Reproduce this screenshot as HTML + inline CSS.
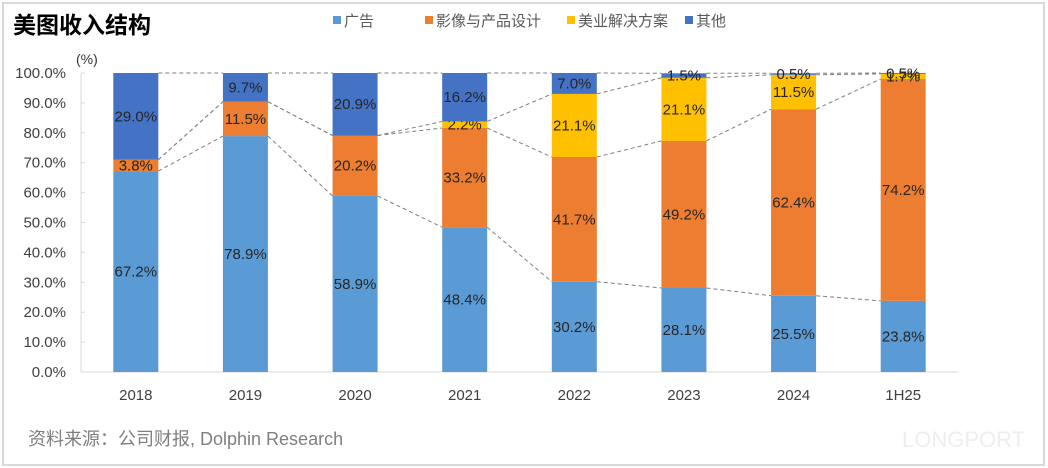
<!DOCTYPE html>
<html><head><meta charset="utf-8"><style>
body{margin:0;background:#fff;}
svg{display:block;font-family:"Liberation Sans","Noto Sans CJK SC",sans-serif;}
</style></head><body>
<svg id="c" width="1048" height="468" xmlns="http://www.w3.org/2000/svg">
<rect x="3" y="3" width="1041" height="462" fill="#fff" stroke="#d9d9d9" stroke-width="2"/>
<text x="13" y="33" font-size="23" font-weight="bold" fill="#000">美图收入结构</text>
<text x="76" y="64" font-size="14" fill="#333">(%)</text>
<text x="28" y="445" font-size="18" fill="#7f7f7f">资料来源：公司财报, Dolphin Research</text>
<text x="902" y="447" font-size="22" fill="#eee">LONGPORT</text>
<g id="plot"></g>
</svg>
<script>
const categories=["2018","2019","2020","2021","2022","2023","2024","1H25"];
const seriesNames=["广告","影像与产品设计","美业解决方案","其他"];
const ads=[67.2,78.9,58.9,48.4,30.2,28.1,25.5,23.8];
const imaging=[3.8,11.5,20.2,33.2,41.7,49.2,62.4,74.2];
const beauty=[0,0,0,2.2,21.1,21.1,11.5,1.7];
const other=[29.0,9.7,20.9,16.2,7.0,1.5,0.5,0.5];
const yTicks=[0,10,20,30,40,50,60,70,80,90,100];
const colors=["#5B9BD5","#ED7D31","#FFC000","#4472C4"];
const series=[ads,imaging,beauty,other];
const NS="http://www.w3.org/2000/svg";
const g=document.getElementById('plot');
const x0=81,x1=958,y0=372,y100=73,bw=45;
const yS=v=>y0-(y0-y100)*v/100;
const xC=i=>x0+(x1-x0)/categories.length*(i+0.5);
function mk(t,a,p){const e=document.createElementNS(NS,t);for(const k in a)e.setAttribute(k,a[k]);(p||g).appendChild(e);return e;}
let ax=mk('line',{x1:x0,y1:y0,x2:x1,y2:y0,stroke:'#d9d9d9'});


let ay=mk('line',{x1:x0,y1:y100,x2:x0,y2:y0,stroke:'#d9d9d9'});


yTicks.forEach(t=>{
  const l=mk('line',{x1:x0,y1:yS(t),x2:x0+4,y2:yS(t),stroke:'#d9d9d9'});
  
  
  const tx=mk('text',{x:66,y:yS(t)+5,'font-size':15,'text-anchor':'end',fill:'#404040'});
  tx.textContent=t.toFixed(1)+'%';
  
  
});
for(let i=0;i<categories.length-1;i++){
  let c1=0,c2=0;
  for(let s=0;s<4;s++){
    c1+=series[s][i];c2+=series[s][i+1];
    const l=mk('line',{x1:xC(i)+bw/2,y1:yS(Math.min(c1,100)),x2:xC(i+1)-bw/2,y2:yS(Math.min(c2,100)),stroke:'#7f7f7f','stroke-dasharray':'4,3','stroke-width':1});
    
    
  }
}
categories.forEach((c,i)=>{
  let cum=0;
  series.forEach((s,k)=>{
    const v=s[i];
    if(v>0){
      const top=Math.min(cum+v,100);
      const r=mk('rect',{x:xC(i)-bw/2,y:yS(top),width:bw,height:yS(cum)-yS(top),fill:colors[k]});
      
      
      const t=mk('text',{x:xC(i),y:(yS(cum)+yS(top))/2+5,'font-size':15,'text-anchor':'middle',fill:'#262626'});
      t.textContent=v.toFixed(1)+'%';
      
      
    }
    cum+=v;
  });
  const t=mk('text',{x:xC(i),y:400,'font-size':15,'text-anchor':'middle',fill:'#404040'});
  t.textContent=c;
  
  
});
const lx=[333,425,567,685];
seriesNames.forEach((n,k)=>{
  const r=mk('rect',{x:lx[k],y:16,width:8,height:8,fill:colors[k]});
  
  
  const t=mk('text',{x:lx[k]+11,y:26,'font-size':15,fill:'#595959'});
  t.textContent=n;
  
  
});
</script>
</body></html>
